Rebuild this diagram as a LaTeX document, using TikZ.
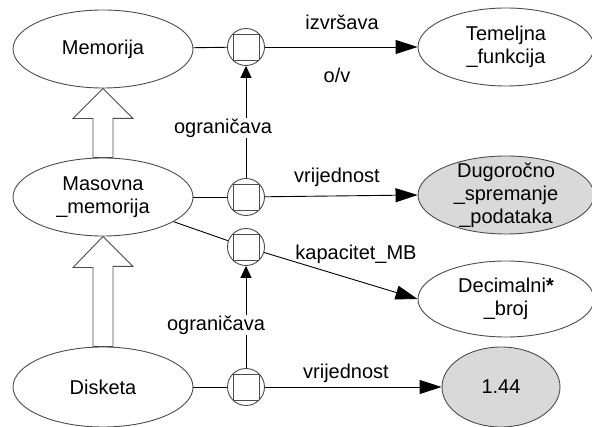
\documentclass[tikz,border=0pt]{standalone}
\usepackage{fontspec}
\setmainfont{Liberation Sans}
\usetikzlibrary{shapes.geometric,arrows.meta}

\tikzset{
  concept/.style={ellipse, draw=black!70, minimum width=180pt, minimum height=78pt,
    inner sep=0pt, align=center, font=\fontsize{20}{23}\selectfont},
  value/.style={concept, fill=black!15},
  junction/.style={circle, draw=black!70, minimum size=37pt, inner sep=0pt,
    path picture={\draw[black!70] ([shift={(-13pt,-13pt)}]path picture bounding box.center) rectangle ++(26pt,26pt);}},
  rel/.style={-{Triangle[length=22pt,width=14pt]}},
  limit/.style={-{Triangle[length=12pt,width=11pt]}},
  lbl/.style={font=\fontsize{20}{23}\selectfont, inner sep=1pt},
  cut/.style={lbl, fill=white},
  isa/.style={draw=black!70, fill=white},
}

\begin{document}
\begin{tikzpicture}[x=1pt, y=-1pt, line width=0.9pt]
    \useasboundingbox (0,0) rectangle (592,427);

    % concepts
    \node [concept] (mem) at (103,49) {Memorija};
    \node [concept] (mas) at (103,197) {Masovna\\\_memorija};
    \node [concept, minimum height=80pt] (dis) at (103,387) {Disketa};
    \node [concept, minimum width=176pt] (tem) at (506,47) {Temeljna\\\_funkcija};
    \node [value, minimum width=176pt, minimum height=78pt, text height=0pt] (dug) at (506,195) {};
    \node [lbl, align=center] (dugtxt) at (dug) {Dugoročno\\\_spremanje\\\_podataka};
    \node [concept, minimum width=176pt, minimum height=76pt] (dec) at (506,299) {Decimalni\textbf{*}\\\_broj};
    \node [value, minimum width=118pt, minimum height=80pt] (val) at (501,387) {1.44};

    % relation points
    \node [junction] (j1) at (246,47) {};
    \node [junction] (j2) at (246,197) {};
    \node [junction] (j3) at (246,247) {};
    \node [junction] (j4) at (246,387) {};

    % relations
    \draw (mem) -- (j1);
    \draw [rel] (j1) -- (tem.west);
    \draw (mas) -- (j2);
    \draw [rel] (j2) -- (dug.west);
    \draw (mas) -- (j3);
    \draw [rel] (j3) -- (dec.west);
    \draw (dis) -- (j4);
    \draw [rel] (j4) -- (val.west);
    \draw [limit] (j2) -- (j1);
    \draw [limit] (j4) -- (j3);

    % labels
    \node [lbl] (izv) at (342,22) {izvršava};
    \node [lbl] (ov) at (337,75) {o/v};
    \node [lbl] (vri1) at (337,177) {vrijednost};
    \node [lbl] (kap) at (356,254) {kapacitet\_MB};
    \node [lbl] (vri2) at (346,373) {vrijednost};
    \node [cut] (ogr1) at (223,128) {ograničava};
    \node [cut] (ogr2) at (216,325) {ograničava};

    % generalisation
    \draw [isa] ([xshift=-10pt]mas.north) -- ++(0,-39) -- ++(-20,0) -- (mem.south)
        -- ++(30,30) -- ++(-20,0) -- ([xshift=10pt]mas.north) -- cycle;
    \draw [isa] ([xshift=-10pt]dis.north) -- ++(0,-79) -- ++(-20,0) -- (mas.south)
        -- ++(30,30) -- ++(-20,0) -- ([xshift=10pt]dis.north) -- cycle;
\end{tikzpicture}
\end{document}
